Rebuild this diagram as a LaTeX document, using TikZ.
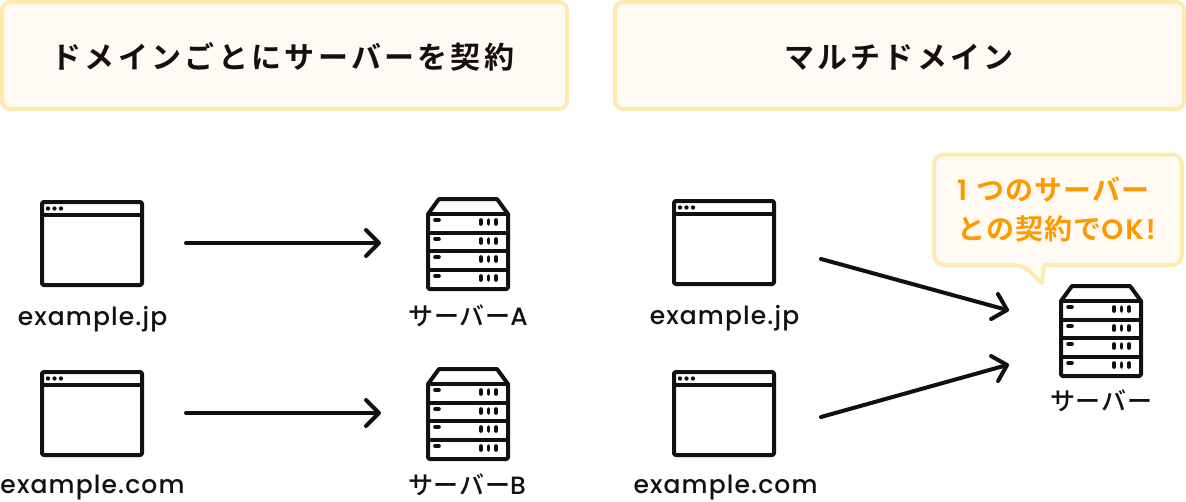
\documentclass[tikz,border=0pt]{standalone}
\usepackage{fontspec}
\usetikzlibrary{arrows.meta}
\setmainfont{Poppins Medium}
\newfontfamily\domf[LetterSpace=4.5]{Poppins Medium}
\newfontfamily\okfont[LetterSpace=7]{Poppins SemiBold}
\newfontfamily\jpf[LetterSpace=11]{Noto Sans CJK JP Bold}
\newfontfamily\jpl[LetterSpace=3]{Noto Sans CJK JP Medium}
\newfontfamily\jpc[LetterSpace=4]{Noto Sans CJK JP Bold}
\definecolor{boxfill}{HTML}{FFFBF4}
\definecolor{boxline}{HTML}{FFEBB0}
\definecolor{ink}{HTML}{111111}
\definecolor{accent}{HTML}{FF9900}
\tikzset{
  x=1pt,y=-1pt,
  icon/.style={line width=4pt,draw=ink,line join=round},
  winbox/.style={icon,rectangle,rounded corners=1.5pt,minimum width=100pt,minimum height=83pt,inner sep=0pt,outer sep=0pt},
  srvbox/.style={rectangle,minimum width=80pt,minimum height=75pt,inner sep=0pt,outer sep=0pt},
  headbox/.style={rectangle,draw=boxline,fill=boxfill,line width=4pt,rounded corners=8pt,minimum height=107pt,inner sep=0pt,outer sep=0pt},
  headtext/.style={text=ink,font=\fontsize{30}{34}\selectfont\jpf,inner sep=0pt},
  domtext/.style={text=ink,font=\fontsize{25}{28}\selectfont\domf,inner sep=0pt},
  srvtext/.style={text=ink,font=\fontsize{25}{28}\selectfont,inner sep=0pt},
  arr/.style={line width=4pt,draw=ink,line cap=round,-{Straight Barb[length=13pt,width=26pt,line width=4pt,round]}},
  calltext/.style={text=accent,font=\fontsize{28}{30}\selectfont\jpc,inner sep=0pt},
}
\newcommand{\winicon}[3]{%
  \node[winbox] (#1) at (#2+50,#3+41.5) {};
  \draw[icon] (#2,#3+13) -- (#2+100,#3+13);
  \foreach \dd in {6,12.5,19}{\fill[ink] (#2+\dd,#3+6.5) circle[radius=2.2pt];}
}
\newcommand{\srvicon}[3]{%
  \node[srvbox] (#1) at (#2+40,#3+52.5) {};
  \draw[icon] (#2,#3+15) -- (#2+11,#3) -- (#2+69,#3) -- (#2+80,#3+15) -- (#2+80,#3+87) [rounded corners=1.5pt] -- (#2+80,#3+90) -- (#2,#3+90) [sharp corners] -- (#2,#3+15) -- cycle;
  \foreach \rr in {15,34,52,71}{\draw[icon] (#2,#3+\rr) -- (#2+80,#3+\rr);}
  \foreach \rr in {22,41,59,78}{
    \draw[ink,line width=3.6pt,line cap=round] (#2+7,#3+\rr-1) -- (#2+11,#3+\rr-1);
    \foreach \cc in {53,60.5,68}{\draw[ink,line width=3.6pt,line cap=round] (#2+\cc,#3+\rr-1) -- (#2+\cc,#3+\rr+3);}
  }
}
\begin{document}
\begin{tikzpicture}
\useasboundingbox (0,0) rectangle (1186,501);
\node[headbox,minimum width=565pt] (h1) at (284.5,55.5) {};
\node[headtext] (h1t) at (283,57) {ドメインごとにサーバーを契約};
\node[headbox,minimum width=569pt] (h2) at (899.5,55.5) {};
\node[headtext] (h2t) at (899,57) {マルチドメイン};

\winicon{w1}{42}{202}
\winicon{w2}{42}{372}
\winicon{w3}{674}{201}
\winicon{w4}{674}{372}
\srvicon{s1}{428}{199}
\srvicon{s2}{428}{369}
\srvicon{s3}{1061}{286}

\node[domtext] (l1) at (92.5,319) {example.jp};
\node[domtext] (l2) at (92.5,487.5) {example.com};
\node[domtext] (l3) at (724.5,318) {example.jp};
\node[domtext] (l4) at (725.5,487.5) {example.com};
\node[srvtext] (l5) at (468,316) {{\jpl サーバー}A};
\node[srvtext] (l6) at (467,485) {{\jpl サーバー}B};
\node[srvtext] (l7) at (1101,401) {{\jpl サーバー}};

\coordinate (a1s) at (186,243);
\coordinate (a1e) at (381,243);
\coordinate (a2s) at (186,413);
\coordinate (a2e) at (381,413);
\coordinate (a3s) at (821,259);
\coordinate (a3e) at (1009,310.5);
\coordinate (a4s) at (821,417);
\coordinate (a4e) at (1009,364.5);
\draw[arr] (a1s) -- (a1e);
\draw[arr] (a2s) -- (a2e);
\draw[arr] (a3s) -- (a3e);
\draw[arr] (a4s) -- (a4e);

\draw[draw=boxline,fill=boxfill,line width=4pt,line join=round]
  [rounded corners=10pt] (1045,265) -- (1182,265) -- (1182,154.5) -- (934,154.5) -- (934,265) -- (1024,265)
  [rounded corners=2pt] -- (1042,284) -- (1044,265) [sharp corners] -- cycle;
\node[calltext,anchor=west] (c1) at (957,190) {{\okfont 1}\hspace{9pt}つのサーバー};
\node[calltext,anchor=west] (c2) at (957,229) {との契約で{\okfont OK!}};
\end{tikzpicture}
\end{document}
